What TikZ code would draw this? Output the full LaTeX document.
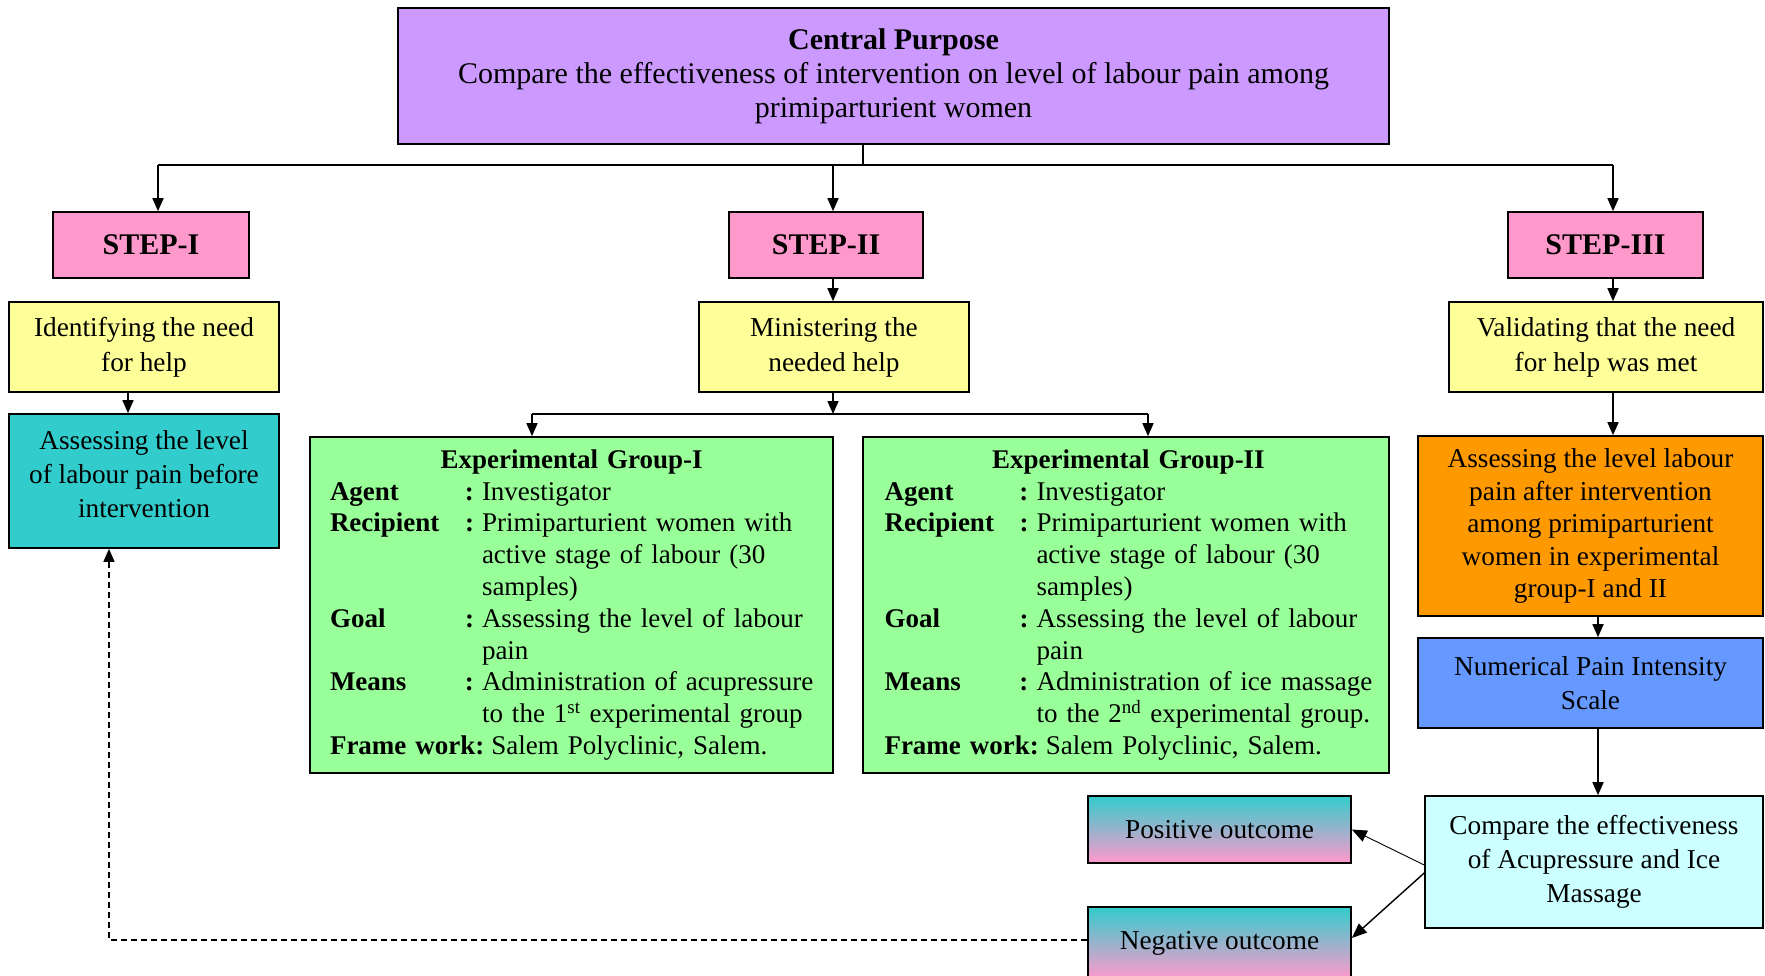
\documentclass[tikz,border=0pt]{standalone}
\usepackage{fontspec}
\setmainfont{Liberation Serif}
\usetikzlibrary{arrows.meta,calc}
\definecolor{cpurple}{HTML}{CC99FF}
\definecolor{cpink}{HTML}{FF99CC}
\definecolor{cyellow}{HTML}{FFFF99}
\definecolor{cteal}{HTML}{33CCCC}
\definecolor{cgreen}{HTML}{99FF99}
\definecolor{corange}{HTML}{FF9900}
\definecolor{cblue}{HTML}{6699FF}
\definecolor{clight}{HTML}{CCFFFF}
\definecolor{cgrad}{HTML}{33CCCC}
\begin{document}
\begin{tikzpicture}[x=1pt,y=-1pt,
  box/.style={draw=black, line width=1.6pt, inner sep=0pt, align=center,
    font=\fontsize{27.3}{34}\selectfont},
  grp/.style={box, fill=cgreen, minimum width=523pt, minimum height=336pt,
    text width=483pt, align=left, font=\fontsize{27}{31.8}\selectfont},
  stepbox/.style={box, fill=cpink, minimum height=66pt, font=\fontsize{30}{34}\selectfont\bfseries},
  outc/.style={box, top color=cgrad, bottom color=cpink, minimum width=263pt},
  conn/.style={line width=1.6pt},
  arr/.style={line width=1.6pt, -{Triangle[length=13pt,width=11pt]}},
  thinarr/.style={line width=0.9pt, -{Triangle[length=15pt,width=12pt]}}
]
\useasboundingbox (0,0) rectangle (1765,975);

% central
\node[box, fill=cpurple, minimum width=991pt, minimum height=136pt, font=\fontsize{30}{34}\selectfont] (cp) at (893.5,76)
  {\textbf{Central Purpose}\\Compare the effectiveness of intervention on  level of labour pain among\\primiparturient women};

% steps
\node[stepbox, minimum width=196pt] (s1) at (151,245) {STEP-I};
\node[stepbox, minimum width=194pt] (s2) at (826,245) {STEP-II};
\node[stepbox, minimum width=195pt] (s3) at (1605.5,245) {STEP-III};

% yellow row
\node[box, fill=cyellow, minimum width=270pt, minimum height=90pt, font=\fontsize{27.3}{35}\selectfont] (idn) at (144,347) {Identifying the need\\for help};
\node[box, fill=cyellow, minimum width=270pt, minimum height=90pt, font=\fontsize{27.3}{35}\selectfont] (min) at (834,347) {Ministering the\\needed help};
\node[box, fill=cyellow, minimum width=314pt, minimum height=90pt, font=\fontsize{27.3}{35}\selectfont] (val) at (1606,347) {Validating that the need\\for help was met};

% left column
\node[box, fill=cteal, minimum width=270pt, minimum height=134pt] (ass) at (144,481) {Assessing the level\\of labour pain before\\intervention\rule[-14pt]{0pt}{0pt}};

% groups
\node[grp] (g1) at (571.5,605) {%
\begin{tabular}{@{}p{135pt}@{}p{17pt}@{}l@{}}
\multicolumn{3}{c}{\textbf{Experimental Group-I}}\\
\textbf{Agent} & \textbf{:} & Investigator\\
\textbf{Recipient} & \textbf{:} & Primiparturient women with\\
 & & active stage of labour (30\\
 & & samples)\\
\textbf{Goal} & \textbf{:} & Assessing the level of labour\\
 & & pain\\
\textbf{Means} & \textbf{:} & Administration of acupressure\\
 & & to the 1\textsuperscript{st} experimental group\\
\multicolumn{3}{@{}l@{}}{\textbf{Frame work:}\hspace{7pt}Salem Polyclinic, Salem.}
\end{tabular}};
\node[grp, minimum width=526pt] (g2) at (1126,605) {%
\begin{tabular}{@{}p{135pt}@{}p{17pt}@{}l@{}}
\multicolumn{3}{c}{\textbf{Experimental Group-II}}\\
\textbf{Agent} & \textbf{:} & Investigator\\
\textbf{Recipient} & \textbf{:} & Primiparturient women with\\
 & & active stage of labour (30\\
 & & samples)\\
\textbf{Goal} & \textbf{:} & Assessing the level of labour\\
 & & pain\\
\textbf{Means} & \textbf{:} & Administration of ice massage\\
 & & to the 2\textsuperscript{nd} experimental group.\\
\multicolumn{3}{@{}l@{}}{\textbf{Frame work:}\hspace{7pt}Salem Polyclinic, Salem.}
\end{tabular}};

% right column
\node[box, fill=corange, minimum width=345pt, minimum height=180pt, font=\fontsize{27.3}{32.5}\selectfont] (ora) at (1590.5,526)
  {Assessing the level labour\\pain after intervention\\among primiparturient\\women in experimental\\group-I and II};
\node[box, fill=cblue, minimum width=345pt, minimum height=90pt] (blu) at (1590.5,683) {Numerical Pain Intensity\\Scale};
\node[box, fill=clight, minimum width=338pt, minimum height=132pt] (cmp) at (1594,862) {Compare the effectiveness\\of Acupressure and Ice\\Massage};

% outcomes
\node[outc, minimum height=67pt] (pos) at (1219.5,829.5) {Positive outcome};
\node[outc, minimum height=72pt] (neg) at (1219.5,943) {Negative outcome};

% connector coordinates
\coordinate (j0) at (863,165);
\coordinate (j1) at (158,165);
\coordinate (j2) at (833,165);
\coordinate (j3) at (1613,165);
\coordinate (k0) at (833,414);
\coordinate (k1) at (532,414);
\coordinate (k2) at (1148,414);
\coordinate (xa) at (128,0);
\coordinate (xb) at (1598,0);
\coordinate (xd) at (109,0);

% top tree
\draw[conn] (cp.south -| j0) -- (j0);
\draw[conn] (j1) -- (j3);
\draw[arr] (j1) -- (j1 |- s1.north);
\draw[arr] (j2) -- (j2 |- s2.north);
\draw[arr] (j3) -- (j3 |- s3.north);

% step II branch
\draw[arr] (s2.south -| j2) -- (j2 |- min.north);
\draw[arr] (min.south -| k0) -- (k0);
\draw[conn] (k1) -- (k2);
\draw[arr] (k1) -- (k1 |- g1.north);
\draw[arr] (k2) -- (k2 |- g2.north);

% step I branch
\draw[arr] (idn.south -| xa) -- (ass.north -| xa);

% step III branch
\draw[arr] (s3.south -| j3) -- (j3 |- val.north);
\draw[arr] (val.south -| j3) -- (j3 |- ora.north);
\draw[arr] (ora.south -| xb) -- (blu.north -| xb);
\draw[arr] (blu.south -| xb) -- (cmp.north -| xb);

% outcomes
\draw[thinarr] ($(cmp.west)+(0,3)$) -- (pos.east);
\draw[thinarr, line width=1.4pt] ($(cmp.west)+(0,11)$) -- ($(neg.east)+(0,-5)$);

% feedback
\draw[arr, line width=1.3pt, dash pattern=on 6pt off 4pt] ($(neg.west)+(0,-3)$) -- ($(neg.west -| xd)+(0,-3)$) -- (xd |- ass.south);
\end{tikzpicture}
\end{document}
